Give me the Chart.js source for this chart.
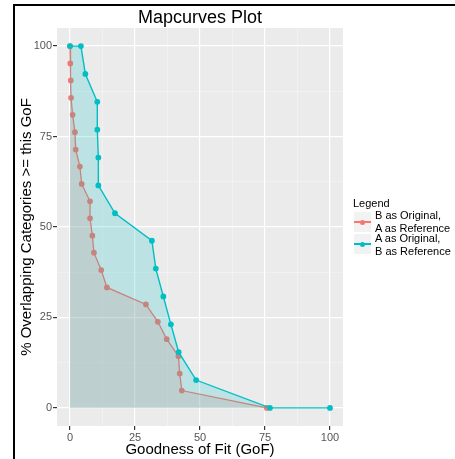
<!DOCTYPE html>
<html>
<head>
<meta charset="utf-8">
<script src="https://cdn.jsdelivr.net/npm/chart.js@4/dist/chart.umd.min.js"></script>
<style>
  body { margin: 0; background: #fff; font-family: "Liberation Sans", Arial, sans-serif; }
  #wrap { position: relative; width: 455px; height: 459px; overflow: hidden; }
  #frame { position: absolute; left: 13px; top: 4px; width: 460px; height: 470px;
           border-left: 2px solid #000; border-top: 2px solid #000; }
  #titre { position: absolute; left: 57px; width: 286px; top: 6px; text-align: center;
           font-size: 18px; color: #000; line-height: 22px; }
  .leg { position: absolute; font-size: 11px; color: #000; line-height: 13px; white-space: nowrap; }
  .cle { position: absolute; left: 354px; width: 17px; height: 20px; background: #F2F2F2; }
  .cle .trait { position: absolute; left: 0; right: 0; top: 9px; height: 1.5px; }
  .cle .pt { position: absolute; left: 6px; top: 7.5px; width: 5px; height: 5px; border-radius: 50%; }
</style>
</head>
<body>
<div id="wrap">
  <canvas id="graphe" width="455" height="459"></canvas>
  <div id="frame"></div>
  <div id="titre">Mapcurves Plot</div>
  <div class="leg" style="left:353px; top:197px;">Legend</div>
  <div class="cle" style="top:212px;"><div class="trait" style="background:#F8766D"></div><div class="pt" style="background:#F8766D"></div></div>
  <div class="cle" style="top:234px;"><div class="trait" style="background:#00BFC4"></div><div class="pt" style="background:#00BFC4"></div></div>
  <div class="leg" style="left:375px; top:209px;">B as Original,</div>
  <div class="leg" style="left:375px; top:222px;">A as Reference</div>
  <div class="leg" style="left:375px; top:232px;">A as Original,</div>
  <div class="leg" style="left:375px; top:245px;">B as Reference</div>
</div>
<script>
// Donnees
// B as Original, A as Reference
const gofB = [0, 0.1, 0.3, 0.4, 1.0, 1.9, 2.2, 3.8, 4.5, 7.7, 7.7, 8.6, 9.2, 12.0, 14.2, 29.2, 33.8, 37.2, 41.7, 42.2, 43.0, 75.7];
const pctB = [100, 95.2, 90.5, 85.7, 81.0, 76.2, 71.4, 66.7, 61.9, 57.1, 52.4, 47.6, 42.9, 38.1, 33.3, 28.6, 23.8, 19.0, 14.3, 9.5, 4.8, 0];
// A as Original, B as Reference
const gofA = [0, 4.2, 5.9, 10.5, 10.5, 10.9, 10.9, 17.3, 31.5, 33.0, 35.9, 38.8, 41.8, 48.5, 76.9, 100];
const pctA = [100, 100, 92.3, 84.6, 76.9, 69.2, 61.5, 53.8, 46.2, 38.5, 30.8, 23.1, 15.4, 7.7, 0, 0];

// graduations (majeures + mineures)
const gridValues = [0, 12.5, 25, 37.5, 50, 62.5, 75, 87.5, 100];
const tickLabels = [0, 25, 50, 75, 100];

const rouge = '#F8766D';
const turquoise = '#00BFC4';

function toPoints(xs, ys) {
    return xs.map((x, i) => ({ x: x, y: ys[i] }));
}

// fond gris du panneau
const fondPanneau = {
    id: 'fondPanneau',
    beforeDraw(chart) {
        const a = chart.chartArea;
        const ctx = chart.ctx;
        ctx.save();
        ctx.fillStyle = '#EBEBEB';
        ctx.fillRect(a.left, a.top, a.right - a.left, a.bottom - a.top);
        ctx.restore();
    }
};

function axe(titre, estY) {
    return {
        type: 'linear',
        min: -5,
        max: 105,
        afterBuildTicks: (scale) => {
            scale.ticks = gridValues.map(v => ({ value: v }));
        },
        afterFit: (scale) => {
            if (estY) scale.width = 44;
            else scale.height = 33;
        },
        border: { display: false },
        grid: {
            color: (c) => tickLabels.includes(c.tick.value) ? '#FFFFFF' : 'rgba(255,255,255,0.55)',
            lineWidth: (c) => tickLabels.includes(c.tick.value) ? 1.2 : 0.6,
            tickColor: (c) => tickLabels.includes(c.tick.value) ? '#333333' : 'rgba(0,0,0,0)',
            tickLength: 4,
            drawTicks: true
        },
        ticks: {
            autoSkip: false,
            maxRotation: 0,
            padding: 1,
            color: '#555555',
            font: { family: '"Liberation Sans", Arial, sans-serif', size: 11 },
            callback: (v) => tickLabels.includes(v) ? String(v) : ''
        },
        title: {
            display: true,
            text: titre,
            color: '#000',
            font: { family: '"Liberation Sans", Arial, sans-serif', size: 15 },
            padding: estY ? { top: 5, bottom: 0 } : { top: 0, bottom: 0 }
        }
    };
}

new Chart(document.getElementById('graphe').getContext('2d'), {
    type: 'line',
    data: {
        datasets: [
            {
                label: 'B as Original, A as Reference',
                data: toPoints(gofB, pctB),
                borderColor: rouge,
                backgroundColor: 'rgba(248,118,109,0.2)',
                pointBackgroundColor: rouge,
                pointBorderColor: rouge,
                pointRadius: 2.2,
                borderWidth: 1.3,
                fill: 'origin',
                tension: 0,
                order: 2
            },
            {
                label: 'A as Original, B as Reference',
                data: toPoints(gofA, pctA),
                borderColor: turquoise,
                backgroundColor: 'rgba(0,191,196,0.2)',
                pointBackgroundColor: turquoise,
                pointBorderColor: turquoise,
                pointRadius: 2.2,
                borderWidth: 1.4,
                fill: 'origin',
                tension: 0,
                order: 1
            }
        ]
    },
    options: {
        responsive: false,
        animation: false,
        devicePixelRatio: 1,
        layout: { padding: { left: 13, right: 112, top: 28, bottom: 0 } },
        plugins: {
            legend: { display: false },
            tooltip: { enabled: false }
        },
        scales: {
            x: axe('Goodness of Fit (GoF)', false),
            y: axe('% Overlapping Categories >= this GoF', true)
        }
    },
    plugins: [fondPanneau]
});
</script>
</body>
</html>
